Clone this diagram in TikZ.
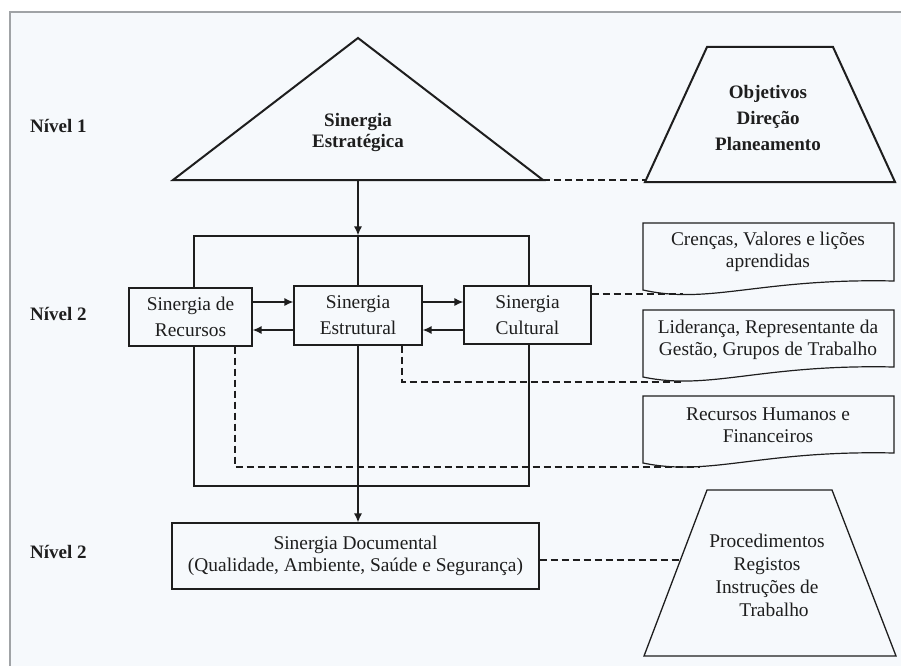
\documentclass[tikz,border=0pt]{standalone}
\usepackage{fontspec}
\setmainfont{Liberation Serif}
\usetikzlibrary{arrows.meta}
\definecolor{bgc}{RGB}{246,249,252}
\definecolor{ink}{RGB}{30,30,30}
\definecolor{framegray}{RGB}{160,163,166}
\begin{document}
\begin{tikzpicture}[x=1pt,y=-1pt,
  txt/.style={font=\fontsize{19.4}{22}\selectfont, text=ink, align=center, inner sep=0pt},
  boldtxt/.style={font=\fontsize{19}{26}\selectfont\bfseries, text=ink, align=center, inner sep=0pt},
  boxnode/.style={draw=ink, line width=1.2pt, fill=bgc, inner sep=0pt, align=center, text=ink, font=\fontsize{19.4}{26}\selectfont},
  conn/.style={draw=ink, line width=1.3pt},
  arr/.style={conn, -{Latex[length=9pt,width=8pt]}},
  dashconn/.style={draw=ink, line width=1.3pt, dash pattern=on 7pt off 4pt},
  heavy/.style={draw=ink, line width=2pt, line join=miter},
  docline/.style={draw=ink, line width=1.2pt, fill=bgc},
]
\useasboundingbox (0,0) rectangle (901,666);
\fill[white] (0,0) rectangle (901,666);
\fill[bgc] (10,12) rectangle (901,666);
\draw[framegray, line width=2pt] (10,666) -- (10,12) -- (901,12);

% level labels
\node[boldtxt, anchor=west] (n1) at (30,126) {Nível 1};
\node[boldtxt, anchor=west] (n2a) at (30,314) {Nível 2};
\node[boldtxt, anchor=west] (n2b) at (30,552) {Nível 2};

% strategic triangle
\coordinate (triA) at (358,38);
\coordinate (triL) at (173,180);
\coordinate (triR) at (543,180);
\coordinate (triB) at (358,180);
\draw[heavy] (triL) -- (triA) -- (triR) -- cycle;
\node[boldtxt, font=\fontsize{19}{21}\selectfont\bfseries] (tri) at (358,133) {Sinergia\\Estratégica};

% objectives trapezoid
\coordinate (trapL) at (645,180);
\draw[heavy] (707,47) -- (833,47) -- (895,182) -- (645,182) -- cycle;
\node[boldtxt] (obj) at (768,118) {Objetivos\\Direção\\Planeamento};
\draw[dashconn] (triR) -- (trapL);

% big frame box
\node[draw=ink, line width=1.2pt, minimum width=335pt, minimum height=250pt, inner sep=0pt] (big) at (361.5,361) {};
\draw[arr] (triB) -- (triB |- big.north);

% inner boxes
\node[boxnode, minimum width=123pt, minimum height=58pt] (rec) at (190.5,317) {Sinergia de\\Recursos};
\node[boxnode, minimum width=128pt, minimum height=59pt] (est) at (358,315.5) {Sinergia\\Estrutural};
\node[boxnode, minimum width=127pt, minimum height=58pt] (cul) at (527.5,315) {Sinergia\\Cultural};
\draw[conn] (triB |- big.north) -- (est.north);

\coordinate (yu) at (0,302);
\coordinate (yl) at (0,330);
\draw[arr] (rec.east |- yu) -- (est.west |- yu);
\draw[arr] (est.west |- yl) -- (rec.east |- yl);
\draw[arr] (est.east |- yu) -- (cul.west |- yu);
\draw[arr] (cul.west |- yl) -- (est.east |- yl);

% document box
\node[boxnode, minimum width=367pt, minimum height=66pt, font=\fontsize{19.4}{22}\selectfont] (doc) at (355.5,556) {Sinergia Documental\\(Qualidade, Ambiente, Saúde e Segurança)};
\draw[arr] (est.south) -- (est.south |- doc.north);

% wavy document shapes
\draw[docline] (643,223) -- (894,223) -- (894,281) .. controls (760,278) and (710,305) .. (643,290) -- cycle;
\draw[docline] (643,310) -- (894,310) -- (894,367) .. controls (760,364) and (710,391) .. (643,377) -- cycle;
\draw[docline] (643,396) -- (894,396) -- (894,453) .. controls (760,450) and (710,477) .. (643,463) -- cycle;
\node[txt] (t1) at (768,252) {Crenças, Valores e lições\\aprendidas};
\node[txt] (t2) at (768,340) {Liderança, Representante da\\Gestão, Grupos de Trabalho};
\node[txt] (t3) at (768,425) {Recursos Humanos e\\Financeiros};

\coordinate (d1end) at (683,294);
\coordinate (d2end) at (683,382);
\coordinate (d3end) at (700,467);
\draw[dashconn] (cul.east |- d1end) -- (d1end);
\draw[dashconn] ([xshift=44pt]est.south) |- (d2end);
\draw[dashconn] ([xshift=44.5pt]rec.south) |- (d3end);

% procedures trapezoid
\coordinate (trap2L) at (680,560);
\draw[conn, line join=miter] (707,490) -- (832,490) -- (896,656) -- (644,656) -- cycle;
\node[txt, font=\fontsize{19.4}{23}\selectfont] (proc) at (767,575) {Procedimentos\\Registos\\Instruções de\\\hspace*{14pt}Trabalho};
\draw[dashconn] (doc.east |- trap2L) -- (trap2L);
\end{tikzpicture}
\end{document}
